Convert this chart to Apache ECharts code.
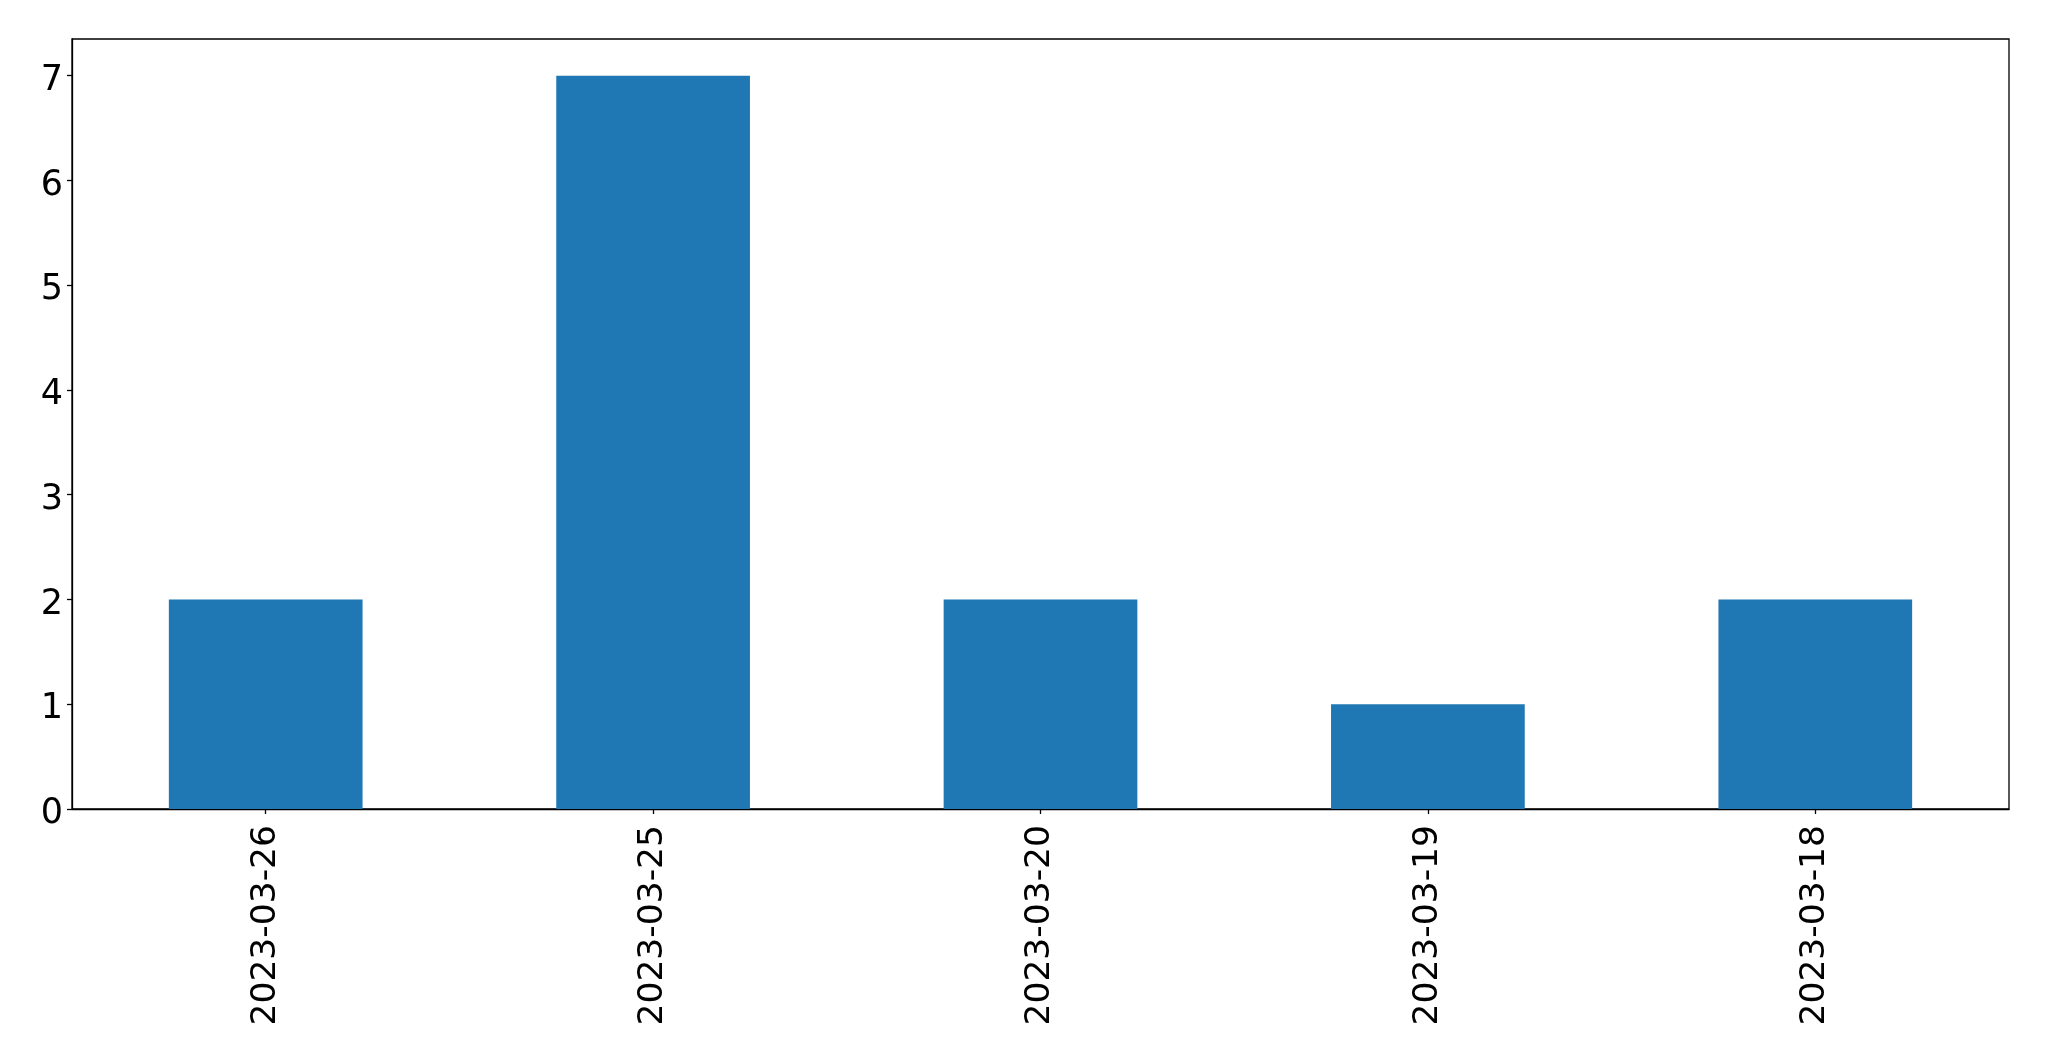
<!DOCTYPE html>
<html>
<head>
<meta charset="utf-8">
<script src="https://cdn.jsdelivr.net/npm/echarts@6/dist/echarts.min.js"></script>
<style>
html,body{margin:0;padding:0;background:#fff;}
#chart{width:2049px;height:1061px;}
</style>
</head>
<body>
<div id="chart"></div>
<script>
const categories = ['2023-03-26', '2023-03-25', '2023-03-20', '2023-03-19', '2023-03-18'];
const counts = [2, 7, 2, 1, 2];
const yTicks = [0, 1, 2, 3, 4, 5, 6, 7];

const chart = echarts.init(document.getElementById('chart'), null, {renderer: 'canvas'});
const font = 'DejaVu Sans';
chart.setOption({
  animation: false,
  backgroundColor: '#ffffff',
  grid: {
    left: 72, right: 40, top: 39, bottom: 252,
    show: true, borderColor: '#000', borderWidth: 1.3, backgroundColor: 'transparent'
  },
  xAxis: {
    type: 'category',
    data: categories,
    axisLine: {show: true, lineStyle: {color: '#000', width: 1.3}},
    axisTick: {show: true, alignWithLabel: true, length: 5, lineStyle: {color: '#000', width: 1.3}},
    axisLabel: {rotate: 90, margin: 16, color: '#000', fontSize: 34.5, fontFamily: font, interval: 0},
    splitLine: {show: false}
  },
  yAxis: {
    type: 'value',
    min: 0, max: 7.35, interval: 1,
    axisLine: {show: true, lineStyle: {color: '#000', width: 1.3}},
    axisTick: {show: true, length: 5, customValues: yTicks, lineStyle: {color: '#000', width: 1.3}},
    axisLabel: {
      margin: 9, color: '#000', fontSize: 35, fontFamily: font, customValues: yTicks,
      formatter: v => '{n|' + v + '}',
      rich: {n: {fontSize: 35, fontFamily: font, color: '#000', padding: [10, 0, 0, 0]}}
    },
    splitLine: {show: false}
  },
  series: [{
    type: 'bar',
    data: counts,
    barWidth: '50%',
    itemStyle: {color: '#1f77b4'}
  }]
});
</script>
</body>
</html>
